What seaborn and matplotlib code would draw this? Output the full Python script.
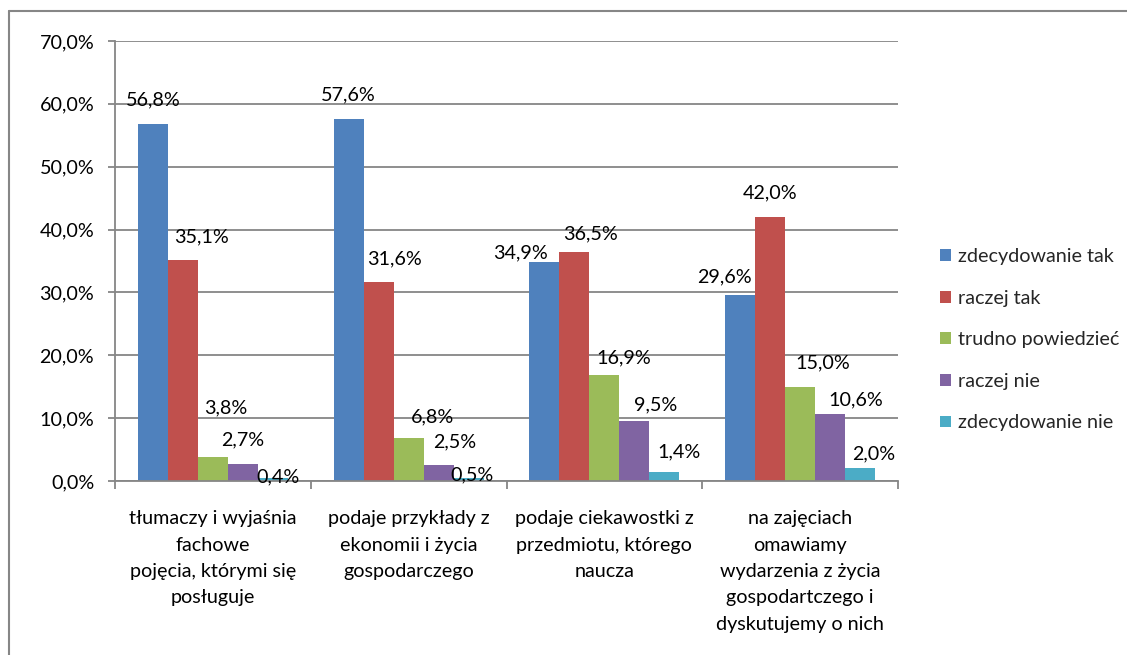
import numpy as np
import pandas as pd
import matplotlib
matplotlib.use("Agg")
import matplotlib.pyplot as plt
from matplotlib.lines import Line2D
from matplotlib.ticker import FixedLocator, FuncFormatter
import seaborn as sns

categories = [
    "tłumaczy i wyjaśnia\nfachowe\npojęcia, którymi się\nposługuje",
    "podaje przykłady z\nekonomii i życia\ngospodarczego",
    "podaje ciekawostki z\nprzedmiotu, którego\nnaucza",
    "na zajęciach\nomawiamy\nwydarzenia z życia\ngospodartczego i\ndyskutujemy o nich",
]
series = ["zdecydowanie tak", "raczej tak", "trudno powiedzieć", "raczej nie", "zdecydowanie nie"]

zdecydowanie_tak = [56.8, 57.6, 34.9, 29.6]
raczej_tak = [35.1, 31.6, 36.5, 42.0]
trudno_powiedziec = [3.8, 6.8, 16.9, 15.0]
raczej_nie = [2.7, 2.5, 9.5, 10.6]
zdecydowanie_nie = [0.4, 0.5, 1.4, 2.0]

yticks = [0, 10, 20, 30, 40, 50, 60, 70]

colors = ["#4F81BD", "#C0504D", "#9BBB59", "#8064A2", "#4BACC6"]

# label nudges in pixels (x from bar centre, y above bar top), hand-placed like the original
label_dx = [[0, 0, -24, -16], [19, 16, 16, 0], [13, 24, 19, 23], [0, 16, 21, 26], [5, 3, 15, 14]]
label_dy = [[24, 24, 9, 18], [23, 23, 18, 24], [49, 21, 17, 24], [24, 23, 16, 14], [2, 3, 20, 15]]

values = [zdecydowanie_tak, raczej_tak, trudno_powiedziec, raczej_nie, zdecydowanie_nie]
rows = []
for s, vals in zip(series, values):
    for c, v in zip(categories, vals):
        rows.append({"kategoria": c, "odpowiedź": s, "wartość": v})
df = pd.DataFrame(rows)

sns.set_theme(style="white")
plt.rcParams["font.family"] = ["Lato", "DejaVu Sans"]

FS = 14.2
W, H = 1127, 655
fig = plt.figure(figsize=(W / 100, H / 100), dpi=100)
ax = fig.add_axes([115 / W, (H - 481) / H, (898 - 115) / W, (481 - 41) / H])

sns.barplot(data=df, x="kategoria", y="wartość", hue="odpowiedź",
            palette=colors, width=0.766, ax=ax, legend=True,
            saturation=1, edgecolor="none", linewidth=0, errorbar=None)

grey = "#868686"
ax.set_ylim(0, 70)
ax.set_xlim(-0.5, len(categories) - 0.5)
ax.yaxis.set_major_locator(FixedLocator(yticks))
ax.yaxis.set_major_formatter(FuncFormatter(lambda v, p: f"{v:.1f}%".replace(".", ",")))
ax.grid(axis="y", color=grey, linewidth=1.3)
ax.set_axisbelow(True)
for side in ["top", "right"]:
    ax.spines[side].set_visible(False)
for side in ["left", "bottom"]:
    ax.spines[side].set_color(grey)
    ax.spines[side].set_linewidth(1.3)

ax.set_xlabel("")
ax.set_ylabel("")
ax.tick_params(axis="y", direction="out", length=5, width=1.3, color=grey,
               pad=10, labelsize=FS, labelcolor="black", left=True)
ax.set_xticks(np.arange(len(categories)))
ax.set_xticklabels(categories, fontsize=FS, linespacing=1.67)
ax.tick_params(axis="x", which="major", length=0, pad=21, labelcolor="black")
ax.set_xticks(np.arange(-0.5, len(categories)), minor=True)
ax.tick_params(axis="x", which="minor", direction="out", length=6, width=1.3,
               color=grey, bottom=True)

for i, cont in enumerate(ax.containers):
    for j, bar in enumerate(cont):
        v = values[i][j]
        xc = bar.get_x() + bar.get_width() / 2
        ax.annotate(f"{v:.1f}%".replace(".", ","), (xc, v),
                    xytext=(label_dx[i][j], label_dy[i][j]), textcoords="offset pixels",
                    ha="center", va="center", fontsize=FS, color="black",
                    annotation_clip=False)

handles, labels = ax.get_legend_handles_labels()
ax.legend(handles, labels, loc="upper left", bbox_to_anchor=(932 / W, 1 - 240 / H),
          bbox_transform=fig.transFigure, frameon=False, fontsize=FS,
          handlelength=0.55, handleheight=0.55, handletextpad=0.35,
          labelspacing=1.25, borderaxespad=0)

# outer chart frame
fig.add_artist(Line2D([9 / W, 1], [1 - 11 / H, 1 - 11 / H], color=grey, linewidth=1.5))
fig.add_artist(Line2D([9 / W, 9 / W], [0, 1 - 11 / H], color=grey, linewidth=1.5))

fig.savefig("out.png", dpi=100)
